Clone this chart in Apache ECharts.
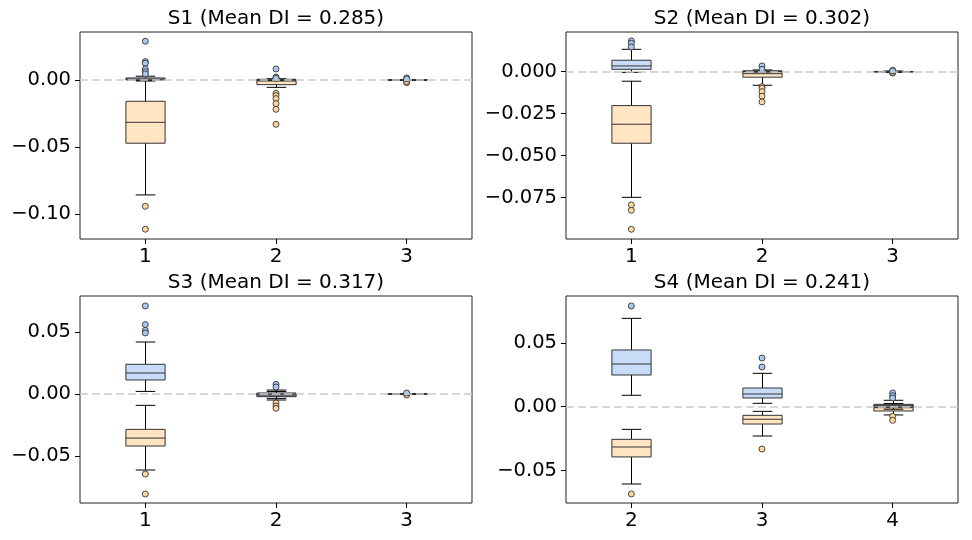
<!DOCTYPE html>
<html>
<head>
    <meta charset="utf-8">
    <title>DI boxplots</title>
</head>
<body style="margin:0;background:#fff;">
<div id="main" style="width:972px;height:540px;"></div>
<script src="https://cdn.jsdelivr.net/npm/echarts@6/dist/echarts.min.js" type="text/javascript"></script>
<script type="text/javascript">

// panel titles and x categories
var titles = ['S1 (Mean DI = 0.285)', 'S2 (Mean DI = 0.302)', 'S3 (Mean DI = 0.317)', 'S4 (Mean DI = 0.241)'];
var cats1 = ['1', '2', '3'];
var cats2 = ['1', '2', '3'];
var cats3 = ['1', '2', '3'];
var cats4 = ['2', '3', '4'];

// y axis ranges and tick values
var yRange1 = [-0.1187, 0.0358];
var yRange2 = [-0.0996, 0.0236];
var yRange3 = [-0.0876, 0.0788];
var yRange4 = [-0.0755, 0.0867];
var yTicks1 = [-0.10, -0.05, 0];
var yTicks2 = [-0.075, -0.05, -0.025, 0];
var yTicks3 = [-0.05, 0, 0.05];
var yTicks4 = [-0.05, 0, 0.05];

// boxes: [lower whisker, q1, median, q3, upper whisker] per category
var s1Blue = [[-0.0005, 0.0, 0.0007, 0.0015, 0.0028], [-0.0003, 0.0, 0.0002, 0.0005, 0.0008], [-0.0002, -0.0001, 0, 0.0001, 0.0002]];
var s1Orange = [[-0.0858, -0.0472, -0.0316, -0.0159, -0.0007], [-0.0055, -0.0035, -0.0008, 0.0, 0.0006], [-0.0003, -0.0001, 0, 0.0001, 0.0003]];
var s2Blue = [[-0.0004, 0.0014, 0.0034, 0.0068, 0.0133], [-0.0002, 0.0, 0.0002, 0.0005, 0.001], [-0.0002, -0.0001, 0, 0.0001, 0.0002]];
var s2Orange = [[-0.0748, -0.0426, -0.0313, -0.0202, -0.0057], [-0.0081, -0.0033, -0.0012, 0.0, 0.0004], [-0.0003, -0.0001, 0, 0.0001, 0.0003]];
var s3Blue = [[0.0021, 0.0113, 0.0169, 0.0239, 0.0418], [-0.0035, -0.0015, -0.0002, 0.0008, 0.0032], [-0.0002, -0.0001, 0, 0.0001, 0.0002]];
var s3Orange = [[-0.0611, -0.0418, -0.0354, -0.0284, -0.0091], [-0.0048, -0.0021, -0.0008, 0.0005, 0.002], [-0.0003, -0.0001, 0, 0.0001, 0.0003]];
var s4Blue = [[0.0089, 0.0248, 0.0334, 0.0444, 0.0692], [0.0026, 0.0068, 0.0099, 0.0146, 0.0261], [-0.002, -0.0003, 0.0008, 0.0018, 0.005]];
var s4Orange = [[-0.0606, -0.0394, -0.0316, -0.0256, -0.0178], [-0.023, -0.0136, -0.0099, -0.0068, -0.0037], [-0.0065, -0.0034, -0.0008, 0.0013, 0.0025]];

// outliers: [category index, value]
var s1BlueOut = [[0, 0.0289], [0, 0.0137], [0, 0.0125], [0, 0.0082], [0, 0.0062], [0, 0.0045], [1, 0.0082], [1, 0.0022], [1, 0.0012], [2, 0.0015], [2, 0.0008]];
var s1OrangeOut = [[0, -0.0943], [0, -0.1114], [1, -0.0100], [1, -0.0117], [1, -0.0139], [1, -0.0177], [1, -0.0219], [1, -0.0331], [2, -0.0020], [2, -0.0012]];
var s2BlueOut = [[0, 0.0183], [0, 0.0169], [0, 0.0147], [1, 0.0034], [1, 0.0014], [2, 0.0008], [2, 0.0005]];
var s2OrangeOut = [[0, -0.0793], [0, -0.0825], [0, -0.0938], [1, -0.0089], [1, -0.0099], [1, -0.0119], [1, -0.0146], [1, -0.0180], [2, -0.0008], [2, -0.0005]];
var s3BlueOut = [[0, 0.0708], [0, 0.0558], [0, 0.0512], [0, 0.0491], [1, 0.0078], [1, 0.0056], [2, 0.0008]];
var s3OrangeOut = [[0, -0.0643], [0, -0.0804], [1, -0.0072], [1, -0.0097], [1, -0.0115], [2, -0.0008]];
var s4BlueOut = [[0, 0.0789], [1, 0.0381], [1, 0.0311], [2, 0.0107], [2, 0.0086], [2, 0.0068]];
var s4OrangeOut = [[0, -0.0684], [1, -0.0332], [2, -0.0076], [2, -0.0107]];

var blueFill = '#c8dcf8';
var orangeFill = '#ffe5c2';
var blueDot = '#a9c8f0';
var orangeDot = '#ffd59e';
var font = 'DejaVu Sans';

var grids = [
    {left: 80, top: 32, width: 392, height: 207},
    {left: 566, top: 32, width: 392, height: 207},
    {left: 80, top: 296, width: 392, height: 207},
    {left: 566, top: 296, width: 392, height: 207}
];

function renderBox(params, api) {
    var x = api.value(0);
    var lo = api.coord([x, api.value(1)]);
    var q1 = api.coord([x, api.value(2)]);
    var md = api.coord([x, api.value(3)]);
    var q3 = api.coord([x, api.value(4)]);
    var hi = api.coord([x, api.value(5)]);
    var band = api.size([1, 0])[0];
    var hw = band * 0.15, cw = band * 0.075;
    var cx = Math.round(md[0]) + 0.5;
    var line = {stroke: '#000', lineWidth: 1};
    var fill = params.seriesName.indexOf('blue') >= 0 ? blueFill : orangeFill;
    return {
        type: 'group',
        children: [
            {type: 'line', shape: {x1: cx, y1: q3[1], x2: cx, y2: hi[1]}, style: line},
            {type: 'line', shape: {x1: cx, y1: q1[1], x2: cx, y2: lo[1]}, style: line},
            {type: 'line', shape: {x1: cx - cw, y1: hi[1], x2: cx + cw, y2: hi[1]}, style: line},
            {type: 'line', shape: {x1: cx - cw, y1: lo[1], x2: cx + cw, y2: lo[1]}, style: line},
            {type: 'rect', shape: {x: cx - hw, y: q3[1], width: 2 * hw, height: q1[1] - q3[1]},
                style: {fill: fill, stroke: '#333', lineWidth: 1}},
            {type: 'line', shape: {x1: cx - hw, y1: md[1], x2: cx + hw, y2: md[1]}, style: {stroke: '#333', lineWidth: 1}}
        ]
    };
}

function boxData(arr) {
    return arr.map(function (b, i) { return [i].concat(b); });
}

function fmt(dec) {
    return function (v) {
        var s = Math.abs(v).toFixed(dec);
        return (v < -1e-9 ? '\u2212' : '') + s;
    };
}

var panels = [
    {cats: cats1, range: yRange1, ticks: yTicks1, dec: 2, blue: s1Blue, orange: s1Orange, blueOut: s1BlueOut, orangeOut: s1OrangeOut},
    {cats: cats2, range: yRange2, ticks: yTicks2, dec: 3, blue: s2Blue, orange: s2Orange, blueOut: s2BlueOut, orangeOut: s2OrangeOut},
    {cats: cats3, range: yRange3, ticks: yTicks3, dec: 2, blue: s3Blue, orange: s3Orange, blueOut: s3BlueOut, orangeOut: s3OrangeOut},
    {cats: cats4, range: yRange4, ticks: yTicks4, dec: 2, blue: s4Blue, orange: s4Orange, blueOut: s4BlueOut, orangeOut: s4OrangeOut}
];

var option = {
    backgroundColor: '#fff',
    animation: false,
    textStyle: {fontFamily: font},
    title: [],
    grid: [],
    xAxis: [],
    yAxis: [],
    series: []
};

panels.forEach(function (p, i) {
    var g = grids[i];
    option.title.push({
        text: titles[i],
        left: g.left + g.width / 2,
        top: g.top - 23,
        textAlign: 'center',
        padding: 0,
        textStyle: {fontFamily: font, fontSize: 20, fontWeight: 'normal', color: '#000'}
    });
    option.grid.push({
        left: g.left, top: g.top, width: g.width, height: g.height,
        show: true, borderColor: '#222', borderWidth: 1, backgroundColor: 'transparent'
    });
    option.xAxis.push({
        type: 'category', gridIndex: i, data: p.cats, boundaryGap: true,
        axisLine: {show: false, onZero: false},
        axisTick: {show: true, alignWithLabel: true, length: 5, lineStyle: {color: '#000'}},
        axisLabel: {fontSize: 20, color: '#000', margin: 8, fontFamily: font},
        splitLine: {show: false}
    });
    option.yAxis.push({
        type: 'value', gridIndex: i, min: p.range[0], max: p.range[1],
        axisLine: {show: false, onZero: false},
        axisTick: {show: true, length: 5, lineStyle: {color: '#000'}, customValues: p.ticks},
        axisLabel: {fontSize: 19.5, color: '#000', margin: 9, fontFamily: font,
            customValues: p.ticks, formatter: fmt(p.dec)},
        splitLine: {show: false}
    });
    option.series.push({
        type: 'line', xAxisIndex: i, yAxisIndex: i, data: [], z: 1, silent: true,
        markLine: {
            silent: true, symbol: 'none', label: {show: false},
            lineStyle: {color: '#cccccc', type: [8, 4], width: 1.5},
            data: [{yAxis: 0}]
        }
    });
    option.series.push({
        name: 'orange' + i, type: 'custom', xAxisIndex: i, yAxisIndex: i, z: 2,
        renderItem: renderBox, data: boxData(p.orange)
    });
    option.series.push({
        name: 'blue' + i, type: 'custom', xAxisIndex: i, yAxisIndex: i, z: 3,
        renderItem: renderBox, data: boxData(p.blue)
    });
    option.series.push({
        type: 'scatter', xAxisIndex: i, yAxisIndex: i, z: 4, symbolSize: 6,
        itemStyle: {color: orangeDot, borderColor: '#222', borderWidth: 0.8, opacity: 1},
        data: p.orangeOut
    });
    option.series.push({
        type: 'scatter', xAxisIndex: i, yAxisIndex: i, z: 4, symbolSize: 6,
        itemStyle: {color: blueDot, borderColor: '#222', borderWidth: 0.8, opacity: 1},
        data: p.blueOut
    });
});

var myChart = echarts.init(document.getElementById('main'));
myChart.setOption(option);
</script>
</body>
</html>
